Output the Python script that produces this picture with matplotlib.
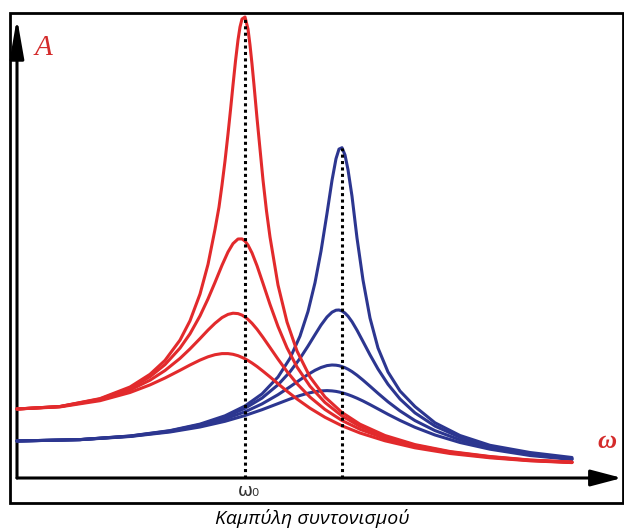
import matplotlib.pyplot as plt
from matplotlib.patches import FancyArrowPatch, Rectangle

# angular frequency samples (red family resonates at w0_red, blue at w0_blue)
red_w = [0, 43, 83, 113, 133, 148, 163, 173, 183, 191, 198, 205, 211, 216, 221, 225, 228,
         231, 235, 240, 246, 253, 261, 270, 280, 293, 308, 325, 343, 368, 398, 433, 473, 513, 555]
# the sharpest red peak gets a denser grid
red_1_w = [0, 43, 83, 113, 133, 148, 163, 173, 183, 191, 198, 202, 205, 208, 211, 213.5, 216,
           218.5, 221, 223, 225, 228, 231, 233, 235, 237, 240, 243, 246, 249.5, 253, 261, 270,
           280, 293, 308, 325, 343, 368, 398, 433, 473, 513, 555]
blue_w = [0, 63, 113, 153, 183, 208, 228, 245, 261, 273, 283, 291, 298, 304, 310, 315, 319,
          322, 325, 328, 331, 335, 340, 346, 353, 361, 371, 383, 398, 418, 443, 473, 513, 555]

w0_red = 228
w0_blue = 325

# amplitude, weakest damping first
red_1 = [69.0, 71.5, 79.4, 91.0, 103.7, 117.6, 137.9, 157.2, 183.9, 213.6, 248.6, 271.0, 293.0,
         317.0, 344.0, 368.0, 393.0, 417.0, 438.0, 451.0, 459.0, 461.0, 449.0, 433.0, 414.0,
         393.0, 360.0, 329.0, 298.0, 267.0, 241.0, 193.0, 156.0, 127.0, 101.0, 81.0, 65.5,
         53.8, 42.5, 33.4, 26.5, 21.5, 18.0, 16.0]
red_2 = [69.0, 71.5, 79.0, 89.8, 101.3, 113.4, 129.9, 144.2, 162.1, 179.1, 195.6, 212.7, 226.0,
         234.4, 239.0, 239.1, 236.9, 232.9, 225.1, 212.3, 194.6, 173.6, 151.5, 130.2, 111.0,
         91.8, 75.5, 62.0, 51.6, 41.3, 32.7, 26.0, 21.2, 17.8, 15.8]
red_3 = [69.0, 71.4, 78.3, 88.0, 97.8, 107.5, 119.6, 129.1, 139.4, 147.9, 154.7, 160.4, 163.6,
         164.8, 164.4, 162.9, 161.0, 158.6, 154.7, 148.8, 140.6, 130.5, 118.9, 106.5, 94.3,
         80.9, 68.5, 57.5, 48.7, 39.5, 31.7, 25.4, 20.8, 17.5, 15.6]
red_4 = [69.0, 71.1, 77.3, 85.5, 93.1, 100.0, 107.7, 113.0, 117.9, 121.2, 123.3, 124.4, 124.4,
         123.7, 122.3, 120.6, 119.2, 117.5, 115.0, 111.5, 106.8, 101.1, 94.3, 86.8, 79.0,
         69.8, 60.7, 52.2, 45.0, 37.2, 30.2, 24.5, 20.2, 17.2, 15.4]

blue_1 = [37.0, 38.4, 42.0, 47.4, 53.9, 62.2, 72.0, 84.1, 101.0, 119.7, 141.9, 166.5, 195.3,
          226.8, 264.6, 297.6, 319.3, 328.9, 330.3, 323.0, 308.3, 281.8, 240.0, 198.0, 160.0,
          130.0, 106.0, 87.0, 71.4, 55.2, 42.5, 32.7, 25.5, 20.5]
blue_2 = [37.0, 38.4, 41.9, 47.1, 53.3, 60.9, 69.7, 79.9, 93.2, 106.2, 119.6, 131.9, 143.3,
          152.9, 161.0, 165.8, 167.8, 168.0, 167.0, 164.9, 161.8, 156.3, 147.8, 136.5, 123.2,
          109.0, 93.7, 79.0, 65.1, 51.9, 40.7, 31.8, 24.2, 19.5]
blue_3 = [37.0, 38.4, 41.7, 46.6, 52.3, 59.0, 66.2, 74.1, 83.3, 91.2, 98.2, 103.5, 107.7,
          110.5, 112.4, 113.0, 112.8, 112.3, 111.4, 110.3, 108.8, 106.4, 102.8, 97.9, 91.8,
          84.7, 76.2, 67.1, 57.4, 47.4, 38.1, 30.4, 23.4, 19.0]
blue_4 = [37.0, 38.3, 41.5, 46.0, 51.0, 56.7, 62.5, 68.3, 74.4, 79.0, 82.5, 84.8, 86.3,
          87.1, 87.4, 87.1, 86.6, 86.0, 85.3, 84.4, 83.4, 81.9, 79.8, 77.0, 73.4,
          69.1, 63.7, 57.6, 50.7, 43.0, 35.5, 28.8, 22.5, 18.5]

red = '#e22a2c'
blue = '#2c3690'

fig = plt.figure(figsize=(6.24, 5.30), dpi=100)
ax = fig.add_axes([0, 0, 1, 1])
ax.set_xlim(-17, 607)
ax.set_ylim(-52, 478)
ax.axis('off')

for vals in [blue_4, blue_3, blue_2, blue_1]:
    ax.plot(blue_w, vals, color=blue, linewidth=2.2, solid_joinstyle='round', solid_capstyle='round')
for vals in [red_4, red_3, red_2]:
    ax.plot(red_w, vals, color=red, linewidth=2.2, solid_joinstyle='round', solid_capstyle='round')
ax.plot(red_1_w, red_1, color=red, linewidth=2.2, solid_joinstyle='round', solid_capstyle='round')

# dotted markers at the natural frequencies
ax.plot([w0_red, w0_red], [0, max(red_1)], color='black', linewidth=2.2, linestyle=(0, (1, 1.1)))
ax.plot([w0_blue, w0_blue], [0, max(blue_1)], color='black', linewidth=2.2, linestyle=(0, (1, 1.1)))

# axes drawn as arrows
ax.add_patch(FancyArrowPatch((0, 0), (0, 460), arrowstyle='-|>,head_length=2.4,head_width=0.42',
                             mutation_scale=10, linewidth=2.2, color='black', shrinkA=0, shrinkB=0))
ax.add_patch(FancyArrowPatch((0, 0), (605, 0), arrowstyle='-|>,head_length=1.9,head_width=0.5',
                             mutation_scale=10, linewidth=2.2, color='black', shrinkA=0, shrinkB=0))

# outer frame
ax.add_patch(Rectangle((-7, -25), 613, 490, fill=False, edgecolor='black', linewidth=2))

ax.text(26, 430, 'A', color='#d42b2b', fontsize=21, style='italic',
        family='Liberation Serif', ha='center', va='center')
ax.text(590, 37, 'ω', color='#d42b2b', fontsize=19, style='italic', weight='bold',
        family='Liberation Serif', ha='center', va='center')
ax.text(232, -13, 'ω₀', color='#333333', fontsize=13, family=['DejaVu Sans'],
        ha='center', va='center')

fig.text(312 / 624, 1 - 518 / 530, 'Καμπύλη συντονισμού', fontsize=14, style='italic',
         family=['Open Sans', 'DejaVu Sans'], ha='center', va='center')

plt.savefig('out.png', dpi=100)
